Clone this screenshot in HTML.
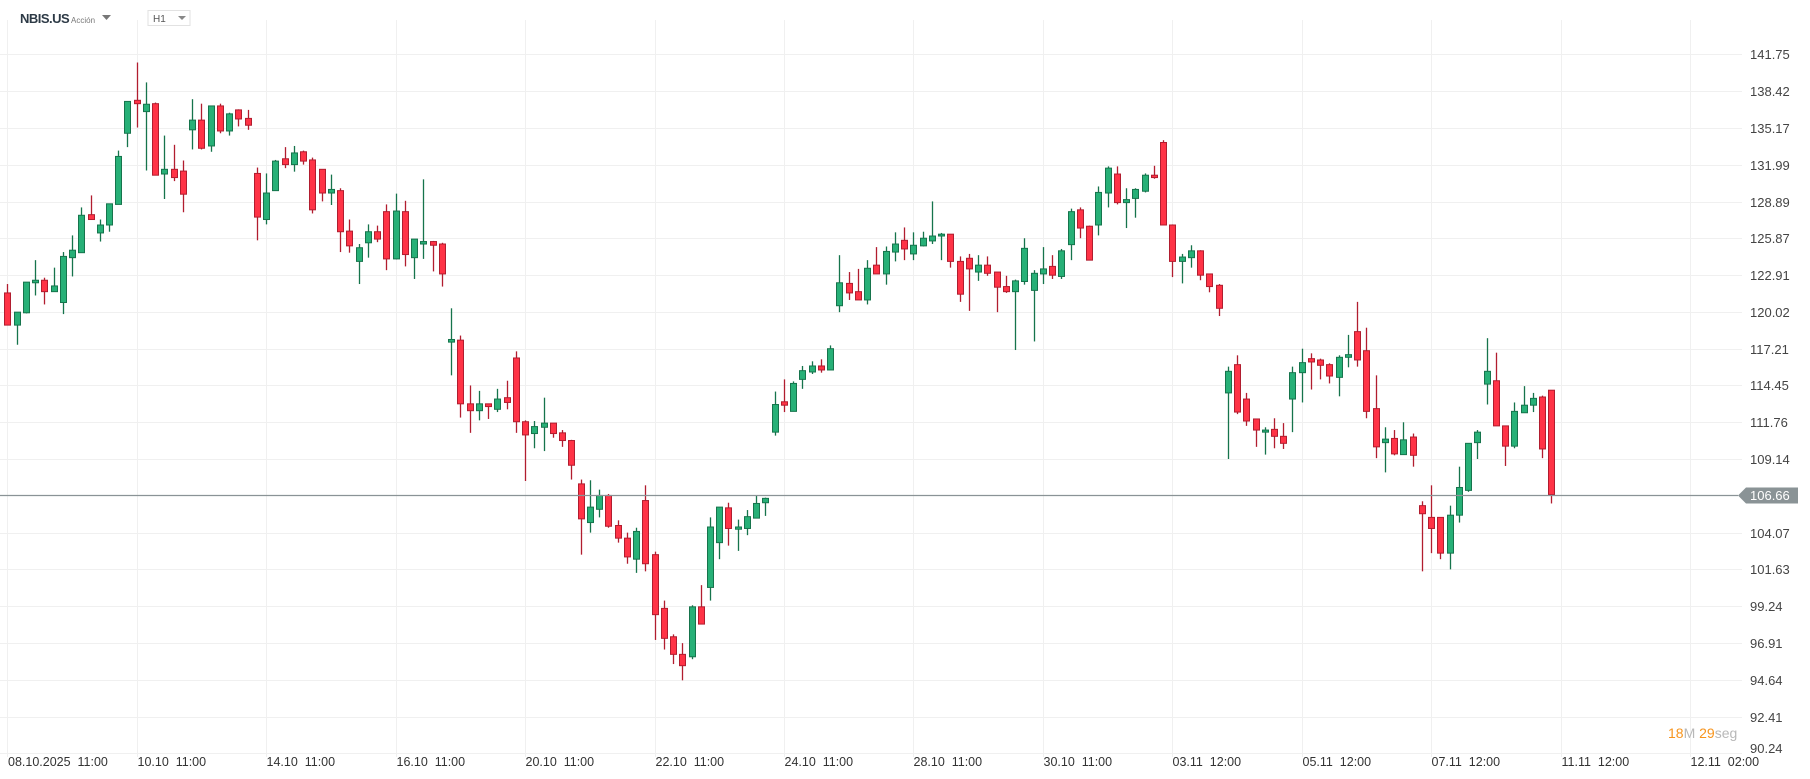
<!DOCTYPE html>
<html><head><meta charset="utf-8">
<style>
html,body{margin:0;padding:0;background:#fff;}
body{width:1810px;height:779px;overflow:hidden;position:relative;font-family:"Liberation Sans",sans-serif;}
svg{position:absolute;left:0;top:0;}
</style></head><body>
<svg id="chart" width="1810" height="779" xmlns="http://www.w3.org/2000/svg">
  <g id="grid"></g>
  <g id="candles"></g>
  <g id="yaxis"></g>
  <g id="xaxis"></g>
  <g id="last"></g>
  <text x="20" y="23" font-size="13" font-weight="bold" fill="#2d3a46" font-family="Liberation Sans, sans-serif" letter-spacing="-0.5">NBIS.US</text>
  <text x="71" y="23" font-size="8" fill="#777" font-family="Liberation Sans, sans-serif">Acción</text>
  <path d="M102 15 L111 15 L106.5 20 Z" fill="#777"/>
  <rect x="148" y="10.5" width="42" height="15" fill="#fff" stroke="#e2e2e2"/>
  <text x="153" y="22" font-size="10" fill="#555" font-family="Liberation Sans, sans-serif">H1</text>
  <path d="M178 16 L186 16 L182 20 Z" fill="#888"/>
  <text x="1668" y="738" font-size="14" font-family="Liberation Sans, sans-serif"><tspan fill="#f7941d">18</tspan><tspan fill="#b8b8b8">M </tspan><tspan fill="#f7941d">29</tspan><tspan fill="#b8b8b8">seg</tspan></text>
</svg>
<script>
const opens=[121.5,119.0,119.95,122.3,122.5,121.6,120.75,124.3,124.7,127.8,126.3,126.95,128.65,134.7,137.6,136.6,137.3,131.2,131.6,131.45,135.0,135.85,133.6,137.1,134.9,136.75,136.0,131.25,127.4,129.8,132.5,132.0,133.1,132.4,131.6,129.6,129.8,126.45,124.0,125.5,126.4,128.05,124.2,128.05,124.3,125.4,125.6,125.4,117.7,117.85,113.1,112.6,113.1,112.7,113.55,116.5,111.8,110.95,111.4,111.7,111.0,110.45,107.4,104.75,105.65,106.6,104.55,103.7,102.3,106.25,102.6,99.1,97.3,96.2,96.05,99.2,100.45,103.4,105.75,104.3,104.35,105.05,106.1,111.05,113.25,112.55,114.9,115.45,115.9,115.6,120.5,122.25,121.6,120.95,123.7,123.0,124.75,125.7,124.6,125.25,125.65,126.05,126.2,124.0,124.25,123.15,123.7,123.15,122.0,121.6,122.4,121.7,123.0,123.6,122.8,125.35,128.2,126.85,126.95,129.6,131.2,128.8,129.15,129.75,131.1,133.9,126.95,124.0,124.3,124.85,123.0,122.1,113.9,116.0,113.45,112.0,111.05,111.25,110.75,113.45,115.4,116.45,116.35,116.0,115.05,116.55,118.5,117.05,112.75,110.3,110.6,109.45,110.7,105.9,105.1,105.1,102.7,105.25,106.95,110.3,114.55,114.8,111.5,110.05,112.45,113.0,113.6,114.1];
const highs=[122.2,120.0,122.35,124.1,122.7,123.5,124.75,126.1,128.4,129.4,127.4,128.7,133.2,137.5,141.0,139.2,137.4,134.5,133.7,132.35,137.7,137.3,137.1,137.3,136.5,136.8,136.75,131.75,131.25,132.4,133.5,133.6,133.2,132.6,131.6,131.15,130.0,127.4,125.4,127.0,126.9,128.65,129.55,128.95,125.8,130.75,125.65,125.5,120.3,118.2,114.45,114.05,113.1,114.2,114.8,117.0,111.9,111.85,113.55,111.7,111.2,110.5,107.7,107.65,107.0,106.7,104.9,104.07,104.4,107.3,102.8,99.6,97.45,96.9,99.3,100.6,105.1,105.8,106.1,104.95,105.6,106.6,106.45,114.0,114.9,114.75,115.9,116.25,116.4,117.45,124.5,123.15,123.4,124.1,125.15,125.2,126.35,126.75,126.35,126.4,128.9,126.3,126.2,124.4,124.6,124.5,124.4,123.15,122.85,122.55,125.87,123.3,125.15,124.5,125.0,128.3,128.4,126.9,130.15,131.85,131.85,130.0,130.0,131.25,131.9,134.1,127.0,124.6,125.3,124.9,123.0,122.2,115.85,116.7,113.9,112.0,111.4,112.05,111.7,115.85,117.2,116.85,116.45,116.1,116.7,118.25,120.8,118.8,115.2,111.4,111.2,111.76,110.95,106.2,107.3,105.1,105.9,108.6,110.25,111.2,118.0,116.9,111.5,113.2,114.4,113.9,113.7,114.1];
const lows=[119.0,117.5,119.9,121.3,120.6,121.6,119.85,122.8,124.7,127.4,125.6,126.4,128.65,133.5,135.2,131.5,131.1,129.1,130.6,128.0,133.3,133.3,133.1,134.7,134.5,135.3,135.0,125.7,127.0,129.8,131.7,131.4,132.0,127.9,128.9,128.6,124.75,124.7,122.2,124.3,125.55,123.3,124.15,123.6,122.6,124.2,123.2,122.0,115.2,112.1,111.0,111.9,112.0,112.5,112.7,111.0,107.6,109.9,109.7,110.65,110.0,107.7,102.6,104.07,105.1,104.4,103.4,102.0,101.4,101.5,97.1,96.5,95.6,94.6,95.9,98.1,99.6,102.3,103.2,102.85,103.9,105.05,105.2,110.8,112.5,112.55,114.2,115.3,115.4,115.6,120.0,120.95,120.95,120.6,123.0,122.15,124.0,124.1,124.1,125.2,125.4,124.1,123.5,120.8,120.1,122.45,122.85,120.0,121.5,117.1,122.15,117.75,122.2,122.6,122.6,124.1,125.87,124.1,126.1,128.4,128.65,126.7,127.55,129.65,130.8,126.95,122.75,122.25,123.5,122.5,121.55,119.7,109.14,112.35,111.5,110.0,109.45,109.9,109.85,111.05,113.2,114.15,114.9,114.6,113.65,115.8,115.85,112.05,109.2,108.2,109.4,109.45,108.6,101.5,102.7,102.3,101.63,104.75,106.85,109.14,113.05,111.5,108.65,109.9,112.45,112.5,109.2,106.05];
const closes=[119.0,120.0,122.35,122.5,121.6,122.05,124.4,124.9,127.75,127.4,126.95,128.7,132.7,137.5,137.3,137.25,131.1,131.6,130.9,129.5,135.85,133.4,137.1,134.9,136.4,135.95,135.4,127.6,129.6,132.3,132.0,133.0,132.3,128.2,129.6,129.9,126.4,125.25,125.1,126.4,125.8,124.2,128.1,124.55,125.8,125.6,125.3,123.0,117.9,113.1,112.6,113.1,112.9,113.45,113.2,111.8,110.85,111.45,111.7,110.95,110.45,108.7,105.0,105.8,106.6,104.5,103.7,102.45,104.15,102.0,98.7,97.2,96.2,95.5,99.2,98.1,104.45,105.8,104.35,104.45,105.15,106.05,106.4,113.05,113.0,114.6,115.55,115.9,115.6,117.2,122.3,121.5,120.95,123.45,123.0,124.8,125.4,125.0,125.3,125.87,126.05,126.2,124.0,121.4,123.4,123.7,123.05,121.95,121.6,122.45,125.05,123.05,123.4,122.9,124.85,128.05,126.7,124.1,129.65,131.7,128.8,129.05,129.9,131.1,130.9,126.95,124.0,124.35,124.85,122.9,122.0,120.3,115.5,112.5,111.85,111.2,111.2,110.75,110.25,115.4,116.15,116.2,115.95,115.15,116.55,116.75,116.35,112.55,110.0,110.55,109.5,110.5,109.4,105.35,104.35,102.7,105.25,107.15,110.25,111.05,115.5,111.5,110.05,112.55,113.0,113.5,109.85,106.66];
const priceTicks=[141.75,138.42,135.17,131.99,128.89,125.87,122.91,120.02,117.21,114.45,111.76,109.14,104.07,101.63,99.24,96.91,94.64,92.41,90.24];
const dateLabels=["08.10.2025","10.10","14.10","16.10","20.10","22.10","24.10","28.10","30.10","03.11","05.11","07.11","11.11","12.11"];
const timeLabels=["11:00","11:00","11:00","11:00","11:00","11:00","11:00","11:00","11:00","12:00","12:00","12:00","12:00","02:00"];
const lastPrice=106.66;

const NS="http://www.w3.org/2000/svg";
const Y0=54.3, K=1548, PTOP=141.75;
function y(p){return Y0+K*Math.log(PTOP/p);}
function x(i){return 7.3+9.246*i;}
function mk(tag,attrs,parent){const e=document.createElementNS(NS,tag);for(const k in attrs)e.setAttribute(k,attrs[k]);parent.appendChild(e);return e;}
const grid=document.getElementById('grid'),cg=document.getElementById('candles'),ya=document.getElementById('yaxis'),xa=document.getElementById('xaxis'),lg=document.getElementById('last');

priceTicks.forEach(p=>{
  const yy=Math.round(y(p))+0.5;
  const l=mk('line',{x1:0,x2:1742,y1:yy,y2:yy,stroke:'#f0f0f0','stroke-width':1},grid);
  
  
  const t=mk('text',{x:1750,y:Math.min(yy+4.5,753),'font-size':13,fill:'#444','font-family':'Liberation Sans, sans-serif'},ya);
  
  
  t.textContent=p.toFixed(2);
});
dateLabels.forEach((d,k)=>{
  const xx=Math.round(x(k*14))+0.5;
  const l=mk('line',{x1:xx,x2:xx,y1:20,y2:757,stroke:'#f0f0f0','stroke-width':1},grid);
  
  
  const t=mk('text',{x:k===0?8:xx,y:766,'font-size':12.5,fill:'#333','font-family':'Liberation Sans, sans-serif'},xa);
  
  
  t.style.whiteSpace='pre';
  t.textContent=d+'  '+timeLabels[k];
});
const ly=Math.round(y(lastPrice))+0.5;
const pl=mk('line',{x1:0,x2:1738,y1:ly,y2:ly,stroke:'#8a9396','stroke-width':1.3},lg);



for(let i=0;i<opens.length;i++){
  const o=opens[i],h=highs[i],l=lows[i],c=closes[i];
  const up=c>=o;
  const fill=up?'#27b077':'#ff3346', st=up?'#16744c':'#b11d2f';
  const cx=Math.round(x(i))+0.5;
  const g=mk('g',{},cg);
  
  
  mk('line',{x1:cx,x2:cx,y1:y(h),y2:y(l),stroke:st,'stroke-width':1.3},g);
  const top=y(Math.max(o,c)),bot=y(Math.min(o,c));
  mk('rect',{x:cx-3,y:top,width:6,height:Math.max(bot-top,1.2),fill:fill,stroke:st,'stroke-width':1},g);
}
const tag=mk('path',{d:`M1738 ${ly} L1746 ${ly-8} L1798 ${ly-8} L1798 ${ly+8} L1746 ${ly+8} Z`,fill:'#8a9396'},lg);


const tt=mk('text',{x:1750,y:ly+4.5,'font-size':13,fill:'#fff','font-family':'Liberation Sans, sans-serif'},lg);


tt.textContent=lastPrice.toFixed(2);
</script>
</body></html>
